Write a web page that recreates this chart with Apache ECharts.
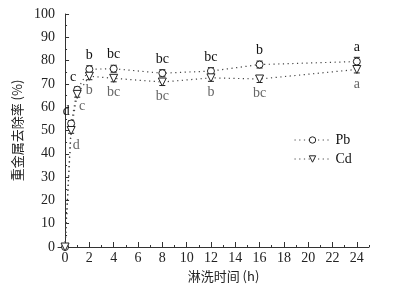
<!DOCTYPE html>
<html><head><meta charset="utf-8">
<script src="https://cdn.jsdelivr.net/npm/echarts@6/dist/echarts.min.js"></script>
<style>html,body{margin:0;padding:0;background:#fff}#c{width:395px;height:289px}</style>
</head><body><div id="c"></div>
<script>
var times = [0, 0.5, 1, 2, 4, 8, 12, 16, 24];
var pbValues = [0, 53, 67.5, 76.3, 76.5, 74.6, 75.5, 78.3, 79.6];
var cdValues = [0, 50, 65.5, 73.3, 72.4, 70.8, 72.6, 72.1, 76.2];
var pbErr = [0, 1.2, 1.2, 1.5, 1.5, 1.5, 1.5, 1.5, 1.8];
var cdErr = [0, 1.2, 1.2, 1.5, 1.5, 1.5, 1.5, 1.5, 1.5];
var pbLetters = ['', 'd', 'c', 'b', 'bc', 'bc', 'bc', 'b', 'a'];
var cdLetters = ['', 'd', 'c', 'b', 'bc', 'bc', 'b', 'bc', 'a'];
var xTicks = [0, 2, 4, 6, 8, 10, 12, 14, 16, 18, 20, 22, 24];
var xMinorTicks = [1, 3, 5, 7, 9, 11, 13, 15, 17, 19, 21, 23, 25];

var serif = '"Liberation Serif","Times New Roman",serif';
var cjk = '"Noto Sans CJK SC",sans-serif';

function labelFor(letters, i, isPb) {
  if (!letters[i]) return {show: false};
  var off;
  if (isPb) {
    off = (i === 1) ? [-5, 2] : (i === 2 ? [-4, 2] : [0, 0]);
  } else {
    off = (i === 1) ? [5, 0] : (i === 2 ? [5, -3] : [0, 0]);
  }
  return {
    show: true, formatter: letters[i], position: isPb ? 'top' : 'bottom',
    distance: 3, offset: off,
    fontFamily: serif, fontSize: 14, color: isPb ? '#111' : '#666'
  };
}
function build(vals, letters, isPb) {
  return times.map(function (t, i) {
    return {value: [t, vals[i]], label: labelFor(letters, i, isPb)};
  });
}
function errData(vals, errs) {
  return times.map(function (t, i) { return [t, vals[i] - errs[i], vals[i] + errs[i]]; });
}
function errRender(params, api) {
  var x = api.value(0);
  var lo = api.coord([x, api.value(1)]);
  var hi = api.coord([x, api.value(2)]);
  var w = 3;
  var st = {stroke: '#222', lineWidth: 1};
  return {type: 'group', children: [
    {type: 'line', shape: {x1: lo[0], y1: lo[1], x2: hi[0], y2: hi[1]}, style: st},
    {type: 'line', shape: {x1: lo[0] - w, y1: lo[1], x2: lo[0] + w, y2: lo[1]}, style: st},
    {type: 'line', shape: {x1: hi[0] - w, y1: hi[1], x2: hi[0] + w, y2: hi[1]}, style: st}
  ]};
}

var chart = echarts.init(document.getElementById('c'));
chart.setOption({
  animation: false,
  grid: {left: 58, right: 26, top: 14, bottom: 42},
  legend: {
    orient: 'vertical', left: 289, top: 128, itemWidth: 36, itemHeight: 8, itemGap: 5,
    itemStyle: {color: '#fff', borderColor: '#222', borderWidth: 1},
    lineStyle: {color: '#444', width: 1, type: [1.2, 3.5]},
    textStyle: {fontFamily: serif, fontSize: 14, color: '#111'},
    data: ['Pb', 'Cd']
  },
  xAxis: [{
    type: 'value', min: -0.58, max: 25,
    name: '淋洗时间 (h)', nameLocation: 'middle', nameGap: 23,
    nameTextStyle: {fontFamily: cjk, fontSize: 13, color: '#222', padding: [0, 0, 0, 20]},
    axisLine: {show: true, onZero: false, lineStyle: {color: '#333', width: 1}},
    axisTick: {show: true, inside: true, length: 5, customValues: xTicks, lineStyle: {color: '#333'}},
    axisLabel: {customValues: xTicks, fontFamily: serif, fontSize: 14, color: '#222', margin: 4},
    splitLine: {show: false}
  }, {
    type: 'value', min: -0.58, max: 25, position: 'bottom',
    axisLine: {show: false},
    axisTick: {show: true, inside: true, length: 2, customValues: xMinorTicks, lineStyle: {color: '#333'}},
    axisLabel: {show: false, customValues: xMinorTicks},
    splitLine: {show: false}
  }],
  yAxis: {
    type: 'value', min: 0, max: 100, interval: 10,
    name: '重金属去除率 (%)', nameLocation: 'middle', nameGap: 27,
    nameTextStyle: {fontFamily: cjk, fontSize: 13, color: '#222'},
    axisLine: {show: true, lineStyle: {color: '#333', width: 1}},
    axisTick: {show: true, inside: true, length: 4, lineStyle: {color: '#333'}},
    minorTick: {show: true, splitNumber: 2, length: 2, lineStyle: {color: '#333'}},
    axisLabel: {fontFamily: serif, fontSize: 14, color: '#222', margin: 3},
    splitLine: {show: false}
  },
  series: [{
    type: 'custom', renderItem: errRender, data: errData(pbValues, pbErr), z: 1, silent: true
  }, {
    type: 'custom', renderItem: errRender, data: errData(cdValues, cdErr), z: 1, silent: true
  }, {
    name: 'Pb', type: 'line', data: build(pbValues, pbLetters, true),
    symbol: 'circle', symbolSize: 7, showAllSymbol: true,
    itemStyle: {color: '#fff', borderColor: '#222', borderWidth: 1},
    lineStyle: {color: '#444', width: 1.2, type: [1.2, 3.5]}, z: 3
  }, {
    name: 'Cd', type: 'line', data: build(cdValues, cdLetters, false),
    symbol: 'triangle', symbolRotate: 180, symbolSize: 8, showAllSymbol: true,
    itemStyle: {color: '#fff', borderColor: '#222', borderWidth: 1},
    lineStyle: {color: '#444', width: 1.2, type: [1.2, 3.5]}, z: 3
  }]
});
</script>
</body></html>
